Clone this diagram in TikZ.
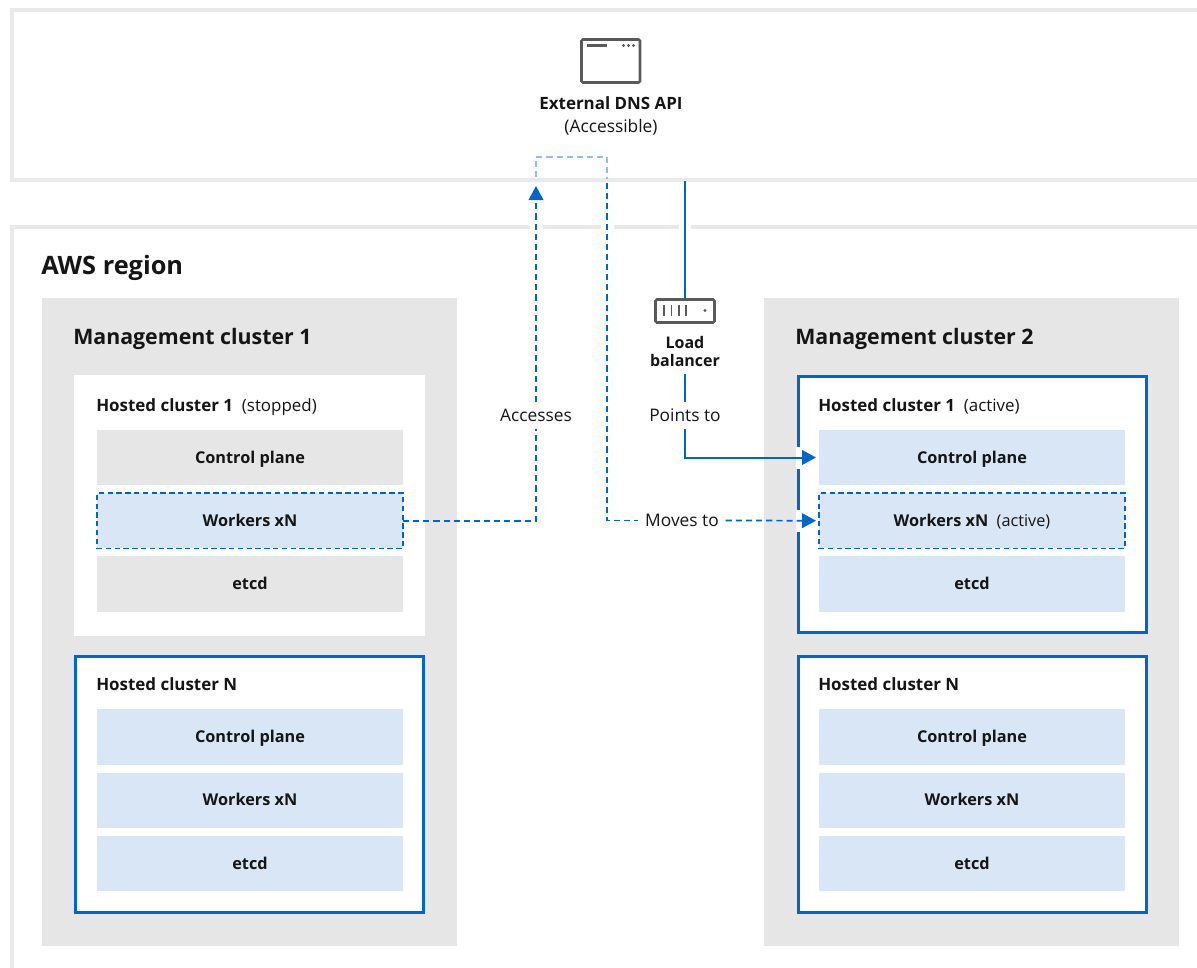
\documentclass[tikz,border=0pt]{standalone}
\usepackage{fontspec}
\setmainfont{Open Sans}
\usetikzlibrary{
  positioning,
  arrows.meta,
  calc
}
\definecolor{boxgray}{HTML}{E6E6E6}
\definecolor{linegray}{HTML}{E9E9E9}
\definecolor{rowblue}{HTML}{D8E6F5}
\definecolor{linkblue}{HTML}{0066CC}
\definecolor{paleblue}{HTML}{92C0EC}
\definecolor{inkblack}{HTML}{151515}
\definecolor{icongray}{HTML}{5A5A5A}

\begin{document}
\begin{tikzpicture}[
      x=0.75pt,
      y=-0.75pt,
      font=\fontsize{13}{16}\selectfont,
      text=inkblack,
      node distance=6pt,
      frameline/.style={
        draw=linegray,
        line width=3pt
      },
      mgmt/.style={
        rectangle,
        fill=boxgray,
        anchor=north west,
        outer sep=0pt,
        minimum width=311.25pt,
        minimum height=486pt
      },
      hosted/.style={
        rectangle,
        fill=white,
        anchor=north west,
        outer sep=0pt,
        minimum width=263.25pt,
        minimum height=195.75pt
      },
      activebox/.style={
        hosted,
        draw=linkblue,
        line width=2.25pt,
        minimum width=261pt,
        minimum height=192pt
      },
      row/.style={
        rectangle,
        outer sep=0pt,
        minimum width=229.5pt,
        minimum height=41.4pt,
        text height=9pt,
        text depth=0.5pt,
        align=center
      },
      grayrow/.style={
        row,
        fill=boxgray
      },
      bluerow/.style={
        row,
        fill=rowblue
      },
      dashrow/.style={
        bluerow,
        draw=linkblue,
        line width=1.1pt,
        dash pattern=on 4pt off 2.6pt
      },
      rowtext/.style={
        font=\fontsize{12.2}{15}\selectfont\bfseries
      },
      regionlabel/.style={
        anchor=base west,
        inner sep=0pt,
        font=\fontsize{19}{23}\selectfont\bfseries
      },
      mgmtlabel/.style={
        anchor=base west,
        inner sep=0pt,
        font=\fontsize{16}{19}\selectfont\bfseries
      },
      hostedlabel/.style={
        anchor=base west,
        inner sep=0pt
      },
      linklabel/.style={
        inner ysep=0pt,
        inner xsep=5pt,
        minimum height=20pt
      },
      iconline/.style={
        draw=icongray,
        line width=1.9pt,
        rounded corners=1pt
      },
      solidlink/.style={
        draw=linkblue,
        line width=1.5pt
      },
      dashlink/.style={
        solidlink,
        line width=1.3pt,
        dash pattern=on 4.6pt off 3pt
      },
      palelink/.style={
        dashlink,
        draw=paleblue
      },
      tip/.style={
        -{Triangle[length=10.5pt,width=11pt]}
      },
      bordergap/.style={
        draw=white,
        line width=16.5pt
      }
    ]

    \useasboundingbox (0,0) rectangle (1197,968);

    % Outer frames
    \draw[frameline] (1197,10) -- (12,10) -- (12,180) -- (1197,180);
    \draw[frameline] (12,968) -- (12,227) -- (530,227)
      (543,227) -- (601,227)
      (614,227) -- (679,227)
      (691,227) -- (1197,227);
    \node[regionlabel] (region) at (41,274) {AWS region};

    % External DNS
    \draw[iconline] (581.5,39.5) rectangle (640,82.5);
    \draw[draw=icongray,line width=1.8pt] (587,45.5) -- (607,45.5);
    \fill[icongray] (623.5,45.5) circle (1.3pt)
      (628.5,45.5) circle (1.3pt)
      (633.5,45.5) circle (1.3pt);
    \node[align=center,inner sep=0pt] (dnsapi) at (611,116)
      {\fontsize{12.7}{16}\selectfont\textbf{External DNS API}\\[1pt] (Accessible)};

    % Management cluster 1
    \node[mgmt] (mgmt1) at (42,298) {};
    \node[mgmtlabel] (mgmt1label) at (73,344) {Management cluster 1};

    \node[hosted] (hc11) at (74,375) {};
    \node[hostedlabel] (hc11label) at (96,411)
      {\fontsize{12.7}{16}\selectfont\textbf{Hosted cluster 1}\ \ (stopped)};
    \node[grayrow,rowtext] (cp11) at (250,457.5) {Control plane};
    \node[dashrow,rowtext, below=of cp11] (wk11) {Workers xN};
    \node[grayrow,rowtext, below=of wk11] (etcd11) {etcd};

    \node[activebox] (hc1n) at (75.5,656) {};
    \node[hostedlabel] (hc1nlabel) at (96,690)
      {\fontsize{12.7}{16}\selectfont\textbf{Hosted cluster N}};
    \node[bluerow,rowtext] (cp1n) at (250,737) {Control plane};
    \node[bluerow,rowtext, below=of cp1n] (wk1n) {Workers xN};
    \node[bluerow,rowtext, below=of wk1n] (etcd1n) {etcd};

    % Management cluster 2
    \node[mgmt] (mgmt2) at (764,298) {};
    \node[mgmtlabel] (mgmt2label) at (795,344) {Management cluster 2};

    \node[activebox] (hc21) at (798,376) {};
    \node[hostedlabel] (hc21label) at (818,411)
      {\fontsize{12.7}{16}\selectfont\textbf{Hosted cluster 1}\ \ (active)};
    \node[bluerow,rowtext] (cp21) at (972,457.5) {Control plane};
    \node[dashrow, below=of cp21] (wk21)
      {\fontsize{12.2}{15}\selectfont\textbf{Workers xN}\ \ (active)};
    \node[bluerow,rowtext, below=of wk21] (etcd21) {etcd};

    \node[activebox] (hc2n) at (798,656) {};
    \node[hostedlabel] (hc2nlabel) at (818,690)
      {\fontsize{12.7}{16}\selectfont\textbf{Hosted cluster N}};
    \node[bluerow,rowtext] (cp2n) at (972,737) {Control plane};
    \node[bluerow,rowtext, below=of cp2n] (wk2n) {Workers xN};
    \node[bluerow,rowtext, below=of wk2n] (etcd2n) {etcd};

    % Load balancer
    \draw[iconline] (655.5,299.5) rectangle (714.5,322.5);
    \draw[draw=icongray,line width=1.4pt]
      (664,305) -- (664,316)
      (671.5,305) -- (671.5,316)
      (679,305) -- (679,316)
      (686,305) -- (686,316);
    \fill[icongray] (705,310.5) circle (1.2pt);
    \node[align=center,inner sep=0pt,font=\bfseries\fontsize{12}{14.2}\selectfont] (lb) at (685,351.5)
      {Load\\ balancer};
    \node[linklabel] (pointsto) at (685,415.5) {Points to};
    \coordinate (lbtop) at (685,298);
    \coordinate (dnsbottom) at (685,181);
    \coordinate (lbfoot) at (685,374);

    % Labels on the links
    \node[linklabel] (accesses) at (536,415.5) {Accesses};
    \node[linklabel] (movesto) at (682,520.5) {Moves to};

    \coordinate (accesstip) at (536,186);
    \coordinate (pale1) at (536,177);
    \coordinate (pale2) at (607,179);
    \coordinate (moveup) at (607,183);
    \coordinate (cornerl) at (536,157);
    \coordinate (cornerr) at (607,157);

    % Gaps in the cluster border
    \draw[bordergap] ($(hc21.west |- cp21.west)+(-2.5,0)$) -- ++(5,0);
    \draw[bordergap] ($(hc21.west |- wk21.west)+(-2.5,0)$) -- ++(5,0);

    % Links
    \draw[dashlink] (wk11.east) -| (accesses.south);
    \draw[dashlink,tip] (accesses.north) -- (accesstip);
    \draw[palelink] (pale1) -- (cornerl) -- (cornerr) -- (pale2);
    \draw[dashlink] (moveup) |- (movesto.west);
    \draw[dashlink,tip] (movesto.east) -- ($(wk21.west)+(-3,0)$);

    \draw[solidlink] (dnsbottom) -- (lbtop);
    \draw[solidlink] (lbfoot) -- (pointsto.north);
    \draw[solidlink,tip] (pointsto.south) |- ($(cp21.west)+(-3,0)$);

    \end{tikzpicture}
\end{document}
